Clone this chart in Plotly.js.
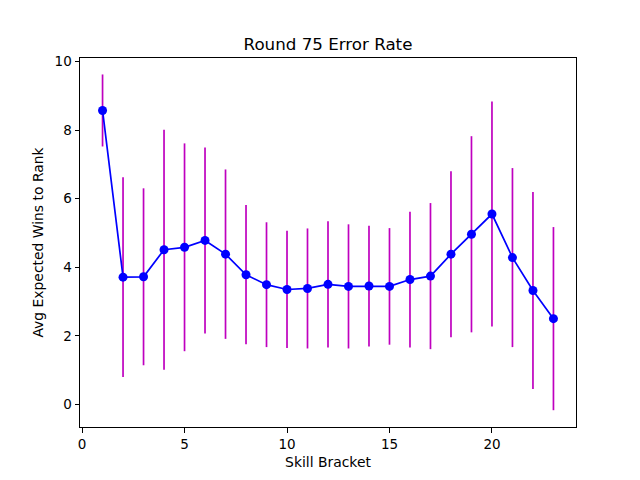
<!DOCTYPE html>
<html>
<head>
<meta charset="utf-8">
<script src="https://cdn.plot.ly/plotly-3.0.1.min.js"></script>
<style>html,body{margin:0;padding:0;background:#fff;}</style>
</head>
<body>
<div id="chart" style="width:640px;height:480px;"></div>
<script>
const brackets = [1,2,3,4,5,6,7,8,9,10,11,12,13,14,15,16,17,18,19,20,21,22,23];
const avgWins = [8.57,3.71,3.72,4.51,4.58,4.78,4.38,3.78,3.49,3.35,3.38,3.50,3.44,3.45,3.44,3.64,3.74,4.38,4.96,5.55,4.28,3.32,2.50];
const errors = [1.05,2.91,2.58,3.50,3.03,2.71,2.47,2.03,1.82,1.71,1.75,1.84,1.81,1.76,1.70,1.98,2.13,2.42,2.86,3.28,2.61,2.87,2.67];

const font = {family: 'DejaVu Sans, sans-serif', color: '#000'};

const trace = {
  x: brackets, y: avgWins, type: 'scatter', mode: 'lines+markers',
  line: {color: '#0000ff', width: 1.7},
  marker: {color: '#0000ff', size: 9},
  error_y: {type: 'data', array: errors, symmetric: true, color: '#bf00bf', thickness: 1.7, width: 0}
};

const axisCommon = {
  showgrid: false, zeroline: false, showline: true, mirror: true,
  linecolor: '#000', linewidth: 1, ticks: 'outside', ticklen: 4.5, tickwidth: 1, tickcolor: '#000',
  tickfont: Object.assign({size: 13.5}, font)
};

const layout = {
  width: 640, height: 480,
  margin: {l: 80, r: 64, t: 58, b: 53},
  paper_bgcolor: '#fff', plot_bgcolor: '#fff',
  showlegend: false,
  title: {text: 'Round 75 Error Rate', font: Object.assign({size: 16.7}, font), x: 0.5, xref: 'paper', xanchor: 'center', y: 1, yref: 'paper', yanchor: 'bottom', pad: {b: 8}},
  xaxis: Object.assign({}, axisCommon, {range: [-0.1, 24.1], tickvals: [0,5,10,15,20],
    title: {text: 'Skill Bracket', font: Object.assign({size: 13.9}, font), standoff: 6}}),
  yaxis: Object.assign({}, axisCommon, {range: [-0.66, 10.1], tickvals: [0,2,4,6,8,10],
    title: {text: 'Avg Expected Wins to Rank', font: Object.assign({size: 13.9}, font), standoff: 7}})
};

Plotly.newPlot('chart', [trace], layout, {displayModeBar: false, staticPlot: true});
</script>
</body>
</html>
